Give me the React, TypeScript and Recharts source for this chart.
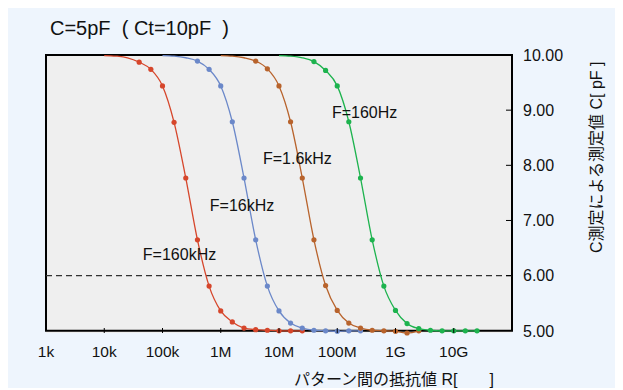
import React from 'react';
import {
  LineChart,
  Line,
  XAxis,
  YAxis,
  CartesianGrid,
  ReferenceLine,
  ReferenceArea,
  ReferenceDot,
} from 'recharts';

const FONT = "'Liberation Sans', Arial, 'Noto Sans CJK JP', sans-serif";

const xTicks = [1e3, 1e4, 1e5, 1e6, 1e7, 1e8, 1e9, 1e10];
const xTickLabels = ['1k', '10k', '100k', '1M', '10M', '100M', '1G', '10G'];
const xDomain = [1e3, 1e11];
const yTicks = [5, 6, 7, 8, 9, 10];
const yDomain = [5, 10];

// resistance of each measured point (ohm)
const rF160k = [1.0e4, 1.58e4, 2.51e4, 3.98e4, 6.31e4, 1.0e5, 1.58e5, 2.51e5, 3.98e5, 6.31e5, 1.0e6, 1.58e6, 2.51e6, 3.98e6, 6.31e6, 1.0e7, 1.58e7, 2.51e7];
const rF16k = [1.0e5, 1.58e5, 2.51e5, 3.98e5, 6.31e5, 1.0e6, 1.58e6, 2.51e6, 3.98e6, 6.31e6, 1.0e7, 1.58e7, 2.51e7, 3.98e7, 6.31e7, 1.0e8, 1.58e8, 2.51e8];
const rF1_6k = [1.0e6, 1.58e6, 2.51e6, 3.98e6, 6.31e6, 1.0e7, 1.58e7, 2.51e7, 3.98e7, 6.31e7, 1.0e8, 1.58e8, 2.51e8, 3.98e8, 6.31e8, 1.0e9, 1.58e9, 2.51e9];
const rF160 = [1.0e7, 1.58e7, 2.51e7, 3.98e7, 6.31e7, 1.0e8, 1.58e8, 2.51e8, 3.98e8, 6.31e8, 1.0e9, 1.58e9, 2.51e9, 3.98e9, 6.31e9, 1.0e10, 1.58e10, 2.51e10];

// measured capacitance (pF)
const cF160k = [9.99, 9.98, 9.95, 9.87, 9.74, 9.44, 8.78, 7.77, 6.65, 5.81, 5.36, 5.16, 5.05, 5.02, 5.01, 5.0, 5.0, 5.0];
const cF16k = [9.99, 9.98, 9.95, 9.89, 9.74, 9.44, 8.79, 7.77, 6.65, 5.81, 5.36, 5.14, 5.05, 5.01, 5.0, 4.99, 5.0, 5.0];
const cF1_6k = [9.99, 9.98, 9.95, 9.89, 9.75, 9.44, 8.79, 7.77, 6.65, 5.82, 5.37, 5.14, 5.05, 5.01, 5.0, 4.99, 4.96, 5.0];
const cF160 = [9.99, 9.98, 9.95, 9.88, 9.72, 9.44, 8.79, 7.77, 6.65, 5.81, 5.37, 5.13, 5.04, 5.01, 5.0, 5.0, 5.0, 5.0];

const seriesNames = ['F=160kHz', 'F=16kHz', 'F=1.6kHz', 'F=160Hz'];
const seriesColors = ['#d6462b', '#6b88c9', '#b8632c', '#1db34e'];
// where each series name is written (R, C)
const labelR = [4.6e4, 6.5e5, 5.3e6, 8.1e7];
const labelC = [6.38, 7.27, 8.13, 8.96];

const toRows = (r: number[], c: number[]) => r.map((v, i) => ({ r: v, c: c[i] }));
const series = [
  toRows(rF160k, cF160k),
  toRows(rF16k, cF16k),
  toRows(rF1_6k, cF1_6k),
  toRows(rF160, cF160),
];

const XTick = (props: any) => {
  const { x, y, payload } = props;
  const i = xTicks.indexOf(payload.value);
  return (
    <g>
      {i > 0 && <line x1={x} x2={x} y1={y - 13} y2={y - 18} stroke="#000" strokeWidth={1} />}
      <text x={x} y={y} dy="0.71em" textAnchor="middle" fontSize={15.5} fontFamily={FONT} fill="#111">
        {xTickLabels[i]}
      </text>
    </g>
  );
};

const YTick = (props: any) => {
  const { x, y, payload } = props;
  return (
    <g>
      {payload.value > 5 && payload.value < 10 && (
        <line x1={x - 11} x2={x - 17} y1={y} y2={y} stroke="#000" strokeWidth={1} />
      )}
      <text x={x} y={y} dy="0.36em" textAnchor="start" fontSize={16} fontFamily={FONT} fill="#111">
        {payload.value.toFixed(2)}
      </text>
    </g>
  );
};

const makeDot = (color: string) => (props: any) => {
  const { cx, cy, payload, index } = props;
  if (payload.c > 9.9) return <g key={index} />;
  return <circle key={index} cx={cx} cy={cy} r={2.6} fill={color} stroke="none" />;
};

export default function App() {
  return (
    <div style={{ position: 'relative', width: 615, height: 383, background: '#eef5fd', marginTop: -3 }}>
      <div
        style={{
          position: 'absolute',
          left: 42,
          top: 13,
          fontFamily: FONT,
          fontSize: 20,
          lineHeight: 1,
          color: '#111',
          whiteSpace: 'pre',
        }}
      >
        {'C=5pF  ( Ct=10pF  )'}
      </div>
      <LineChart width={615} height={383} margin={{ top: 50, right: 0, bottom: 0, left: 38 }}>
        <CartesianGrid fill="#efefef" horizontal={false} vertical={false} />
        <XAxis
          dataKey="r"
          type="number"
          scale="log"
          domain={xDomain}
          ticks={xTicks}
          height={55}
          axisLine={false}
          tickLine={false}
          tickSize={0}
          tickMargin={13}
          tick={<XTick />}
          interval={0}
          allowDuplicatedCategory={false}
          label={{
            content: (p: any) => (
              <text
                x={p.viewBox.x + p.viewBox.width - 18}
                y={p.viewBox.y + 46}
                dy="0.35em"
                textAnchor="end"
                fontSize={16}
                fontFamily={FONT}
                fill="#111"
                style={{ whiteSpace: 'pre' }}
              >
                {'パターン間の抵抗値 R[\u3000\u3000]'}
              </text>
            ),
          }}
        />
        <YAxis
          orientation="right"
          type="number"
          domain={yDomain}
          ticks={yTicks}
          width={111}
          axisLine={false}
          tickLine={false}
          tickSize={0}
          tickMargin={11}
          tick={<YTick />}
          interval={0}
          label={{
            content: (p: any) => {
              const cx = p.viewBox.x + 84;
              const cy = 248;
              return (
                <text
                  x={cx}
                  y={cy}
                  dy="0.35em"
                  transform={`rotate(-90 ${cx} ${cy})`}
                  textAnchor="start"
                  fontSize={16}
                  fontFamily={FONT}
                  fill="#111"
                >
                  {'C測定による測定値 C[ pF ]'}
                </text>
              );
            },
          }}
        />
        <ReferenceArea
          x1={xDomain[0]}
          x2={xDomain[1]}
          y1={yDomain[0]}
          y2={yDomain[1]}
          fill="none"
          fillOpacity={0}
          stroke="#000"
          strokeWidth={2}
          ifOverflow="visible"
        />
        <ReferenceLine y={6} stroke="#333" strokeWidth={1.2} strokeDasharray="6 4" />
        {series.map((rows, i) => (
          <Line
            key={seriesNames[i]}
            data={rows}
            dataKey="c"
            name={seriesNames[i]}
            type="monotone"
            stroke={seriesColors[i]}
            strokeWidth={1.3}
            dot={makeDot(seriesColors[i])}
            activeDot={false}
            isAnimationActive={false}
          />
        ))}
        {seriesNames.map((name, i) => (
          <ReferenceDot
            key={name}
            x={labelR[i]}
            y={labelC[i]}
            r={0}
            fill="none"
            stroke="none"
            label={{
              content: (p: any) => (
                <text x={p.viewBox.x} y={p.viewBox.y} dy="0.35em" fontSize={16} fontFamily={FONT} fill="#111">
                  {name}
                </text>
              ),
            }}
          />
        ))}
      </LineChart>
    </div>
  );
}
